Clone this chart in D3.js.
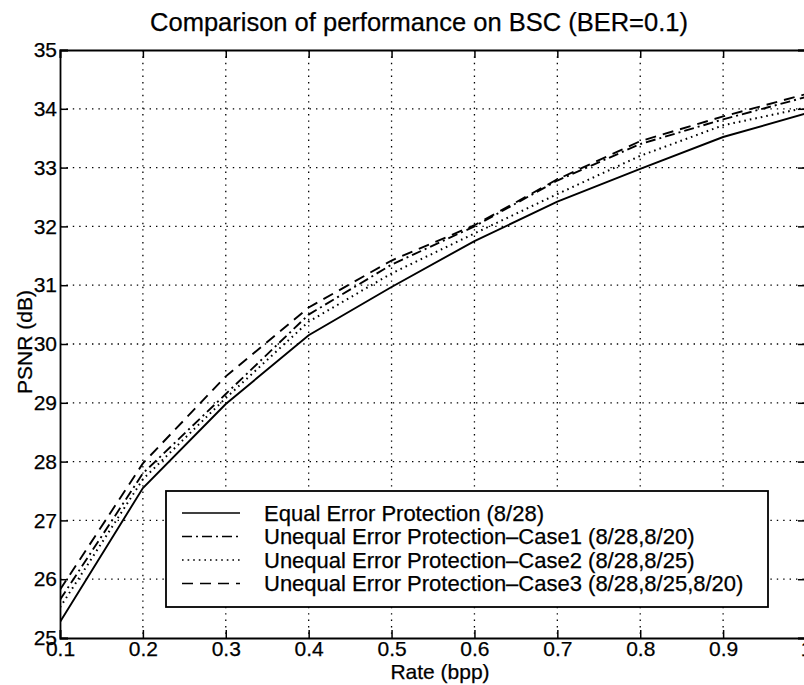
<!DOCTYPE html>
<html><head><meta charset="utf-8">
<script src="https://cdn.jsdelivr.net/npm/d3@7/dist/d3.min.js"></script>
<style>
body{margin:0;background:#fff;overflow:hidden}
text{font-family:"Liberation Sans",Arial,Helvetica,sans-serif;fill:#000;stroke:#000;stroke-width:0.25}
</style>
</head><body>
<svg id="chart" width="804" height="685"></svg>
<script>
// ---- data ----
const rates = [0.1,0.2,0.3,0.4,0.5,0.6,0.7,0.8,0.9,1.0];
const equalEP  = [25.27,27.55,28.98,30.15,30.97,31.75,32.42,32.98,33.52,33.92];
const uepCase1 = [25.65,27.80,29.15,30.50,31.35,32.00,32.78,33.40,33.82,34.20];
const uepCase2 = [25.52,27.70,29.08,30.38,31.20,31.88,32.55,33.20,33.72,34.02];
const uepCase3 = [25.82,27.97,29.45,30.62,31.42,32.02,32.80,33.45,33.87,34.25];
const seriesNames = [
  "Equal Error Protection (8/28)",
  "Unequal Error Protection\u2013Case1 (8/28,8/20)",
  "Unequal Error Protection\u2013Case2 (8/28,8/25)",
  "Unequal Error Protection\u2013Case3 (8/28,8/25,8/20)"
];
const xTicks = [0.1,0.2,0.3,0.4,0.5,0.6,0.7,0.8,0.9,1];
const yTicks = [25,26,27,28,29,30,31,32,33,34,35];
const titleText = "Comparison of performance on BSC (BER=0.1)";
const xLabel = "Rate (bpp)";
const yLabel = "PSNR (dB)";

// ---- layout ----
const L = 60, R = 806, T = 50, B = 638;
const svg = d3.select("#chart");
const x = d3.scaleLinear().domain([0.1,1]).range([L,R]);
const y = d3.scaleLinear().domain([25,35]).range([B,T]);

// grid
const grid = svg.append("g").attr("stroke","#000").attr("stroke-width",1.3).attr("stroke-dasharray","1.4,5");
grid.selectAll("line.gx").data(xTicks.slice(1,-1)).enter().append("line")
  .attr("x1",d=>x(d)).attr("x2",d=>x(d)).attr("y1",T).attr("y2",B);
grid.selectAll("line.gy").data(yTicks.slice(1,-1)).enter().append("line")
  .attr("y1",d=>y(d)).attr("y2",d=>y(d)).attr("x1",L).attr("x2",R);

// axes with inward ticks
const fmtX = d => d===1 ? "1" : d3.format(".1f")(d);
const axB = svg.append("g").attr("transform",`translate(0,${B})`)
  .call(d3.axisBottom(x).tickValues(xTicks).tickSize(-8).tickPadding(9).tickFormat(fmtX));
const axT = svg.append("g").attr("transform",`translate(0,${T})`)
  .call(d3.axisTop(x).tickValues(xTicks).tickSize(-8).tickFormat(""));
const axL = svg.append("g").attr("transform",`translate(${L},0)`)
  .call(d3.axisLeft(y).tickValues(yTicks).tickSize(-8).tickPadding(3).tickFormat(d3.format("d")));
const axR = svg.append("g").attr("transform",`translate(${R},0)`)
  .call(d3.axisRight(y).tickValues(yTicks).tickSize(-8).tickFormat(""));
[axB,axT,axL,axR].forEach(a=>{
  a.selectAll("path.domain").attr("stroke","#000").attr("stroke-width",1.8);
  a.selectAll(".tick line").attr("stroke","#000").attr("stroke-width",1.5);
  a.selectAll("text").attr("font-size",21).attr("font-family","Liberation Sans, Arial, sans-serif").attr("fill","#000");
});
axB.selectAll("text").attr("dy","0.42em");

// lines
const styles = [
  {dash:null},
  {dash:"10,4,2,4"},
  {dash:"1.6,4"},
  {dash:"11,7"}
];
const allSeries = [equalEP,uepCase1,uepCase2,uepCase3];
const line = d3.line().x((d,i)=>x(rates[i])).y(d=>y(d));
svg.append("clipPath").attr("id","clip").append("rect").attr("x",L).attr("y",T).attr("width",R-L).attr("height",B-T);
const plot = svg.append("g").attr("clip-path","url(#clip)");
allSeries.forEach((s,k)=>{
  plot.append("path").datum(s).attr("d",line).attr("fill","none")
    .attr("stroke","#000").attr("stroke-width",k===2?2:1.9)
    .attr("stroke-dasharray",styles[k].dash);
});

// legend
const lg = svg.append("g");
lg.append("rect").attr("x",166).attr("y",491).attr("width",602).attr("height",116)
  .attr("fill","#fff").attr("stroke","#000").attr("stroke-width",1.8);
const rowY = [513,536.5,560,583.5];
seriesNames.forEach((n,k)=>{
  lg.append("line").attr("x1",182).attr("x2",240).attr("y1",rowY[k]).attr("y2",rowY[k])
    .attr("stroke","#000").attr("stroke-width",k===2?1.6:1.5).attr("stroke-dasharray",styles[k].dash);
  lg.append("text").attr("x",264).attr("y",rowY[k]).attr("dy","0.36em")
    .attr("font-size",22).text(n);
});

// titles
svg.append("text").attr("x",419).attr("y",31).attr("text-anchor","middle").attr("font-size",25.5).text(titleText);
svg.append("text").attr("x",440).attr("y",679).attr("text-anchor","middle").attr("font-size",21).text(xLabel);
svg.append("text").attr("transform","translate(32,342) rotate(-90)").attr("text-anchor","middle").attr("font-size",21).text(yLabel);
</script>
</body></html>
